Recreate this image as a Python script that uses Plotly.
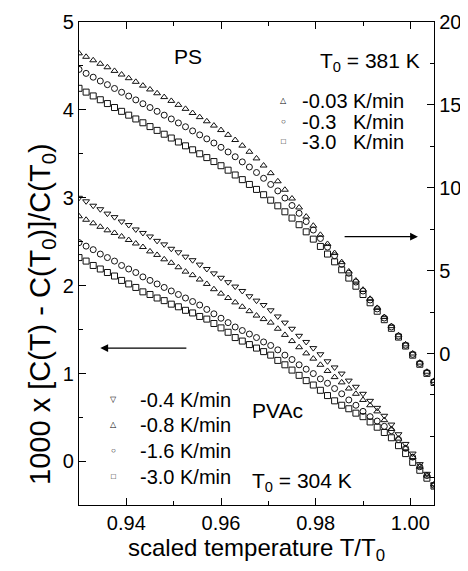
import plotly.graph_objects as go

# ---------------- data ----------------
temp = [0.9300, 0.9315, 0.9330, 0.9345, 0.9360, 0.9375, 0.9390, 0.9405, 0.9420, 0.9435,
        0.9450, 0.9465, 0.9480, 0.9495, 0.9510, 0.9525, 0.9540, 0.9555, 0.9570, 0.9585,
        0.9600, 0.9615, 0.9630, 0.9645, 0.9660, 0.9675, 0.9690, 0.9705, 0.9720, 0.9735,
        0.9750, 0.9765, 0.9780, 0.9795, 0.9810, 0.9825, 0.9840, 0.9855, 0.9870, 0.9885,
        0.9900, 0.9915, 0.9930, 0.9945, 0.9960, 0.9975, 0.9990, 1.0005, 1.0020, 1.0035,
        1.0050]

# PS (right axis)
ps_003 = [18.11, 17.90, 17.69, 17.48, 17.27, 17.05, 16.83, 16.61, 16.39, 16.16,
          15.93, 15.70, 15.47, 15.24, 15.00, 14.76, 14.51, 14.26, 14.01, 13.75,
          13.48, 13.19, 12.88, 12.54, 12.17, 11.77, 11.34, 10.88, 10.39, 9.88,
          9.35, 8.81, 8.26, 7.71, 7.16, 6.61, 6.06, 5.51, 4.95, 4.40,
          3.85, 3.30, 2.75, 2.20, 1.65, 1.10, 0.55, 0.00, -0.55, -1.10, -1.65]
ps_03 = [17.14, 16.90, 16.67, 16.44, 16.22, 15.99, 15.76, 15.53, 15.30, 15.07,
         14.84, 14.61, 14.38, 14.15, 13.91, 13.68, 13.43, 13.19, 12.95, 12.70,
         12.44, 12.16, 11.87, 11.56, 11.25, 10.92, 10.57, 10.20, 9.81, 9.38,
         8.93, 8.46, 7.96, 7.45, 6.94, 6.42, 5.90, 5.38, 4.84, 4.31,
         3.77, 3.23, 2.69, 2.14, 1.60, 1.05, 0.50, -0.05, -0.60, -1.15, -1.70]
ps_30 = [16.00, 15.77, 15.54, 15.31, 15.08, 14.84, 14.61, 14.38, 14.15, 13.92,
         13.69, 13.46, 13.23, 13.00, 12.76, 12.53, 12.29, 12.05, 11.82, 11.58,
         11.33, 11.06, 10.77, 10.49, 10.20, 9.90, 9.58, 9.25, 8.91, 8.55,
         8.17, 7.77, 7.34, 6.90, 6.46, 6.00, 5.53, 5.05, 4.55, 4.06,
         3.56, 3.06, 2.55, 2.04, 1.52, 0.99, 0.45, -0.10, -0.65, -1.20, -1.75]

# PVAc (left axis)
pvac_04 = [3.00, 2.96, 2.91, 2.87, 2.82, 2.78, 2.73, 2.69, 2.64, 2.60,
           2.56, 2.51, 2.47, 2.42, 2.38, 2.33, 2.29, 2.24, 2.19, 2.14,
           2.09, 2.04, 1.99, 1.94, 1.88, 1.83, 1.78, 1.72, 1.65, 1.58,
           1.51, 1.43, 1.36, 1.29, 1.22, 1.14, 1.07, 1.00, 0.92, 0.85,
           0.77, 0.69, 0.61, 0.52, 0.42, 0.31, 0.20, 0.09, -0.03, -0.14, -0.26]
pvac_08 = [2.79, 2.75, 2.71, 2.67, 2.63, 2.60, 2.56, 2.52, 2.48, 2.44,
           2.39, 2.35, 2.30, 2.26, 2.21, 2.16, 2.12, 2.07, 2.02, 1.96,
           1.91, 1.86, 1.81, 1.76, 1.71, 1.66, 1.62, 1.58, 1.51, 1.44,
           1.37, 1.30, 1.23, 1.17, 1.10, 1.03, 0.96, 0.90, 0.83, 0.77,
           0.70, 0.64, 0.57, 0.47, 0.37, 0.26, 0.15, 0.05, -0.06, -0.16, -0.26]
pvac_16 = [2.49, 2.45, 2.41, 2.36, 2.32, 2.28, 2.23, 2.19, 2.15, 2.10,
           2.06, 2.02, 1.98, 1.94, 1.90, 1.86, 1.82, 1.78, 1.73, 1.68,
           1.63, 1.58, 1.53, 1.49, 1.45, 1.41, 1.36, 1.32, 1.27, 1.21,
           1.16, 1.10, 1.05, 1.00, 0.94, 0.89, 0.83, 0.77, 0.70, 0.64,
           0.57, 0.51, 0.46, 0.40, 0.35, 0.25, 0.15, 0.05, -0.06, -0.16, -0.27]
pvac_30 = [2.32, 2.28, 2.23, 2.19, 2.15, 2.11, 2.06, 2.02, 1.98, 1.93,
           1.90, 1.86, 1.83, 1.79, 1.76, 1.72, 1.69, 1.65, 1.62, 1.57,
           1.52, 1.47, 1.41, 1.37, 1.33, 1.29, 1.25, 1.21, 1.15, 1.10,
           1.04, 0.98, 0.92, 0.87, 0.81, 0.75, 0.69, 0.64, 0.60, 0.55,
           0.51, 0.45, 0.39, 0.33, 0.27, 0.18, 0.09, -0.01, -0.10, -0.19, -0.28]

ps_labels = ["-0.03", "-0.3", "-3.0"]
pvac_labels = ["-0.4 K/min", "-0.8 K/min", "-1.6 K/min", "-3.0 K/min"]
x_ticks = [0.94, 0.96, 0.98, 1.00]
yl_ticks = [0, 1, 2, 3, 4, 5]
yr_ticks = [0, 5, 10, 15, 20]

FONT = "Liberation Sans, Arial, sans-serif"
INK = "#111111"

fig = go.Figure()

ps_series = [(ps_003, "triangle-up-open"), (ps_03, "circle-open"), (ps_30, "square-open")]
for vals, sym in ps_series:
    fig.add_trace(go.Scatter(x=temp, y=vals, mode="markers", yaxis="y2", showlegend=False,
                             marker=dict(symbol=sym, size=6, color=INK, line=dict(width=1, color=INK))))

pvac_series = [(pvac_04, "triangle-down-open"), (pvac_08, "triangle-up-open"),
               (pvac_16, "circle-open"), (pvac_30, "square-open")]
for vals, sym in pvac_series:
    fig.add_trace(go.Scatter(x=temp, y=vals, mode="markers", yaxis="y", showlegend=False,
                             marker=dict(symbol=sym, size=6, color=INK, line=dict(width=1, color=INK))))

ann = []
def txt(x, y, s, size=20, xanchor="left", yanchor="middle", angle=0):
    ann.append(dict(x=x, y=y, xref="paper", yref="paper", text=s, showarrow=False,
                    xanchor=xanchor, yanchor=yanchor, textangle=angle,
                    font=dict(size=size, family=FONT, color="black")))

# y-axis title (placed as rotated text, like the original)
txt(-0.105, 0.395, "1000 x [C(T) - C(T<sub>0</sub>)]/C(T<sub>0</sub>)", 29,
    xanchor="center", yanchor="middle", angle=-90)

# PS labels
txt(0.307, 0.9285, "PS", 21, xanchor="center")
txt(0.672, 0.918, "T<sub>0</sub> = 381 K", 21)
ps_syms = ["\u25B3", "\u25CB", "\u25A1"]
ps_rows = [0.8373, 0.7938, 0.7523]
for s, lab, yy in zip(ps_syms, ps_labels, ps_rows):
    txt(0.577, yy, s, 8, xanchor="center")
    txt(0.6225, yy, lab, 20)
    txt(0.766, yy, "K/min", 20)

# PVAc labels
pv_syms = ["\u25BD", "\u25B3", "\u25CB", "\u25A1"]
pv_rows = [0.2176, 0.1658, 0.1119, 0.058]
for s, lab, yy in zip(pv_syms, pvac_labels, pv_rows):
    txt(0.0958, yy, s, 8, xanchor="center")
    txt(0.166, yy, lab, 20)
txt(0.4817, 0.1948, "PVAc", 21)
txt(0.4817, 0.048, "T<sub>0</sub> = 304 K", 21)

# arrows
ann.append(dict(x=0.9345, y=1.29, ax=0.9530, ay=1.29, xref="x", yref="y", axref="x", ayref="y",
                text="", showarrow=True, arrowhead=2, arrowsize=1.2, arrowwidth=1.3, arrowcolor="black"))
ann.append(dict(x=1.0016, y=7.05, ax=0.9858, ay=7.05, xref="x", yref="y2", axref="x", ayref="y2",
                text="", showarrow=True, arrowhead=2, arrowsize=1.2, arrowwidth=1.3, arrowcolor="black"))

axis_common = dict(showline=True, linecolor="black", linewidth=1.3, ticks="inside",
                   tickcolor="black", tickwidth=1.2, showgrid=False, zeroline=False,
                   tickfont=dict(size=20, family=FONT, color="black"))

# The page body adds an 8px offset, so the figure is 8px smaller and margins compensate.
fig.update_layout(
    width=460, height=563,
    margin=dict(l=71, r=34, t=14, b=66, autoexpand=False),
    paper_bgcolor="white", plot_bgcolor="white",
    font=dict(family=FONT, color="black"),
    showlegend=False,
    xaxis=dict(range=[0.930, 1.005], tickvals=x_ticks, tickformat=".2f", ticklen=7,
               mirror="ticks",
               minor=dict(dtick=0.01, tick0=0.93, ticklen=4, ticks="inside", tickcolor="black"),
               title=dict(text="scaled temperature T/T<sub>0</sub>", standoff=6,
                          font=dict(size=24, family=FONT, color="black")),
               **axis_common),
    yaxis=dict(range=[-0.495, 5.0], tickvals=yl_ticks, ticklen=7,
               minor=dict(dtick=0.5, tick0=0, ticklen=4, ticks="inside", tickcolor="black"),
               **axis_common),
    yaxis2=dict(range=[-9.14, 20.0], tickvals=yr_ticks, ticklen=7, overlaying="y", side="right",
                minor=dict(dtick=2.5, tick0=0, ticklen=4, ticks="inside", tickcolor="black"),
                **axis_common),
    annotations=ann,
)

fig.write_html("out.html")
